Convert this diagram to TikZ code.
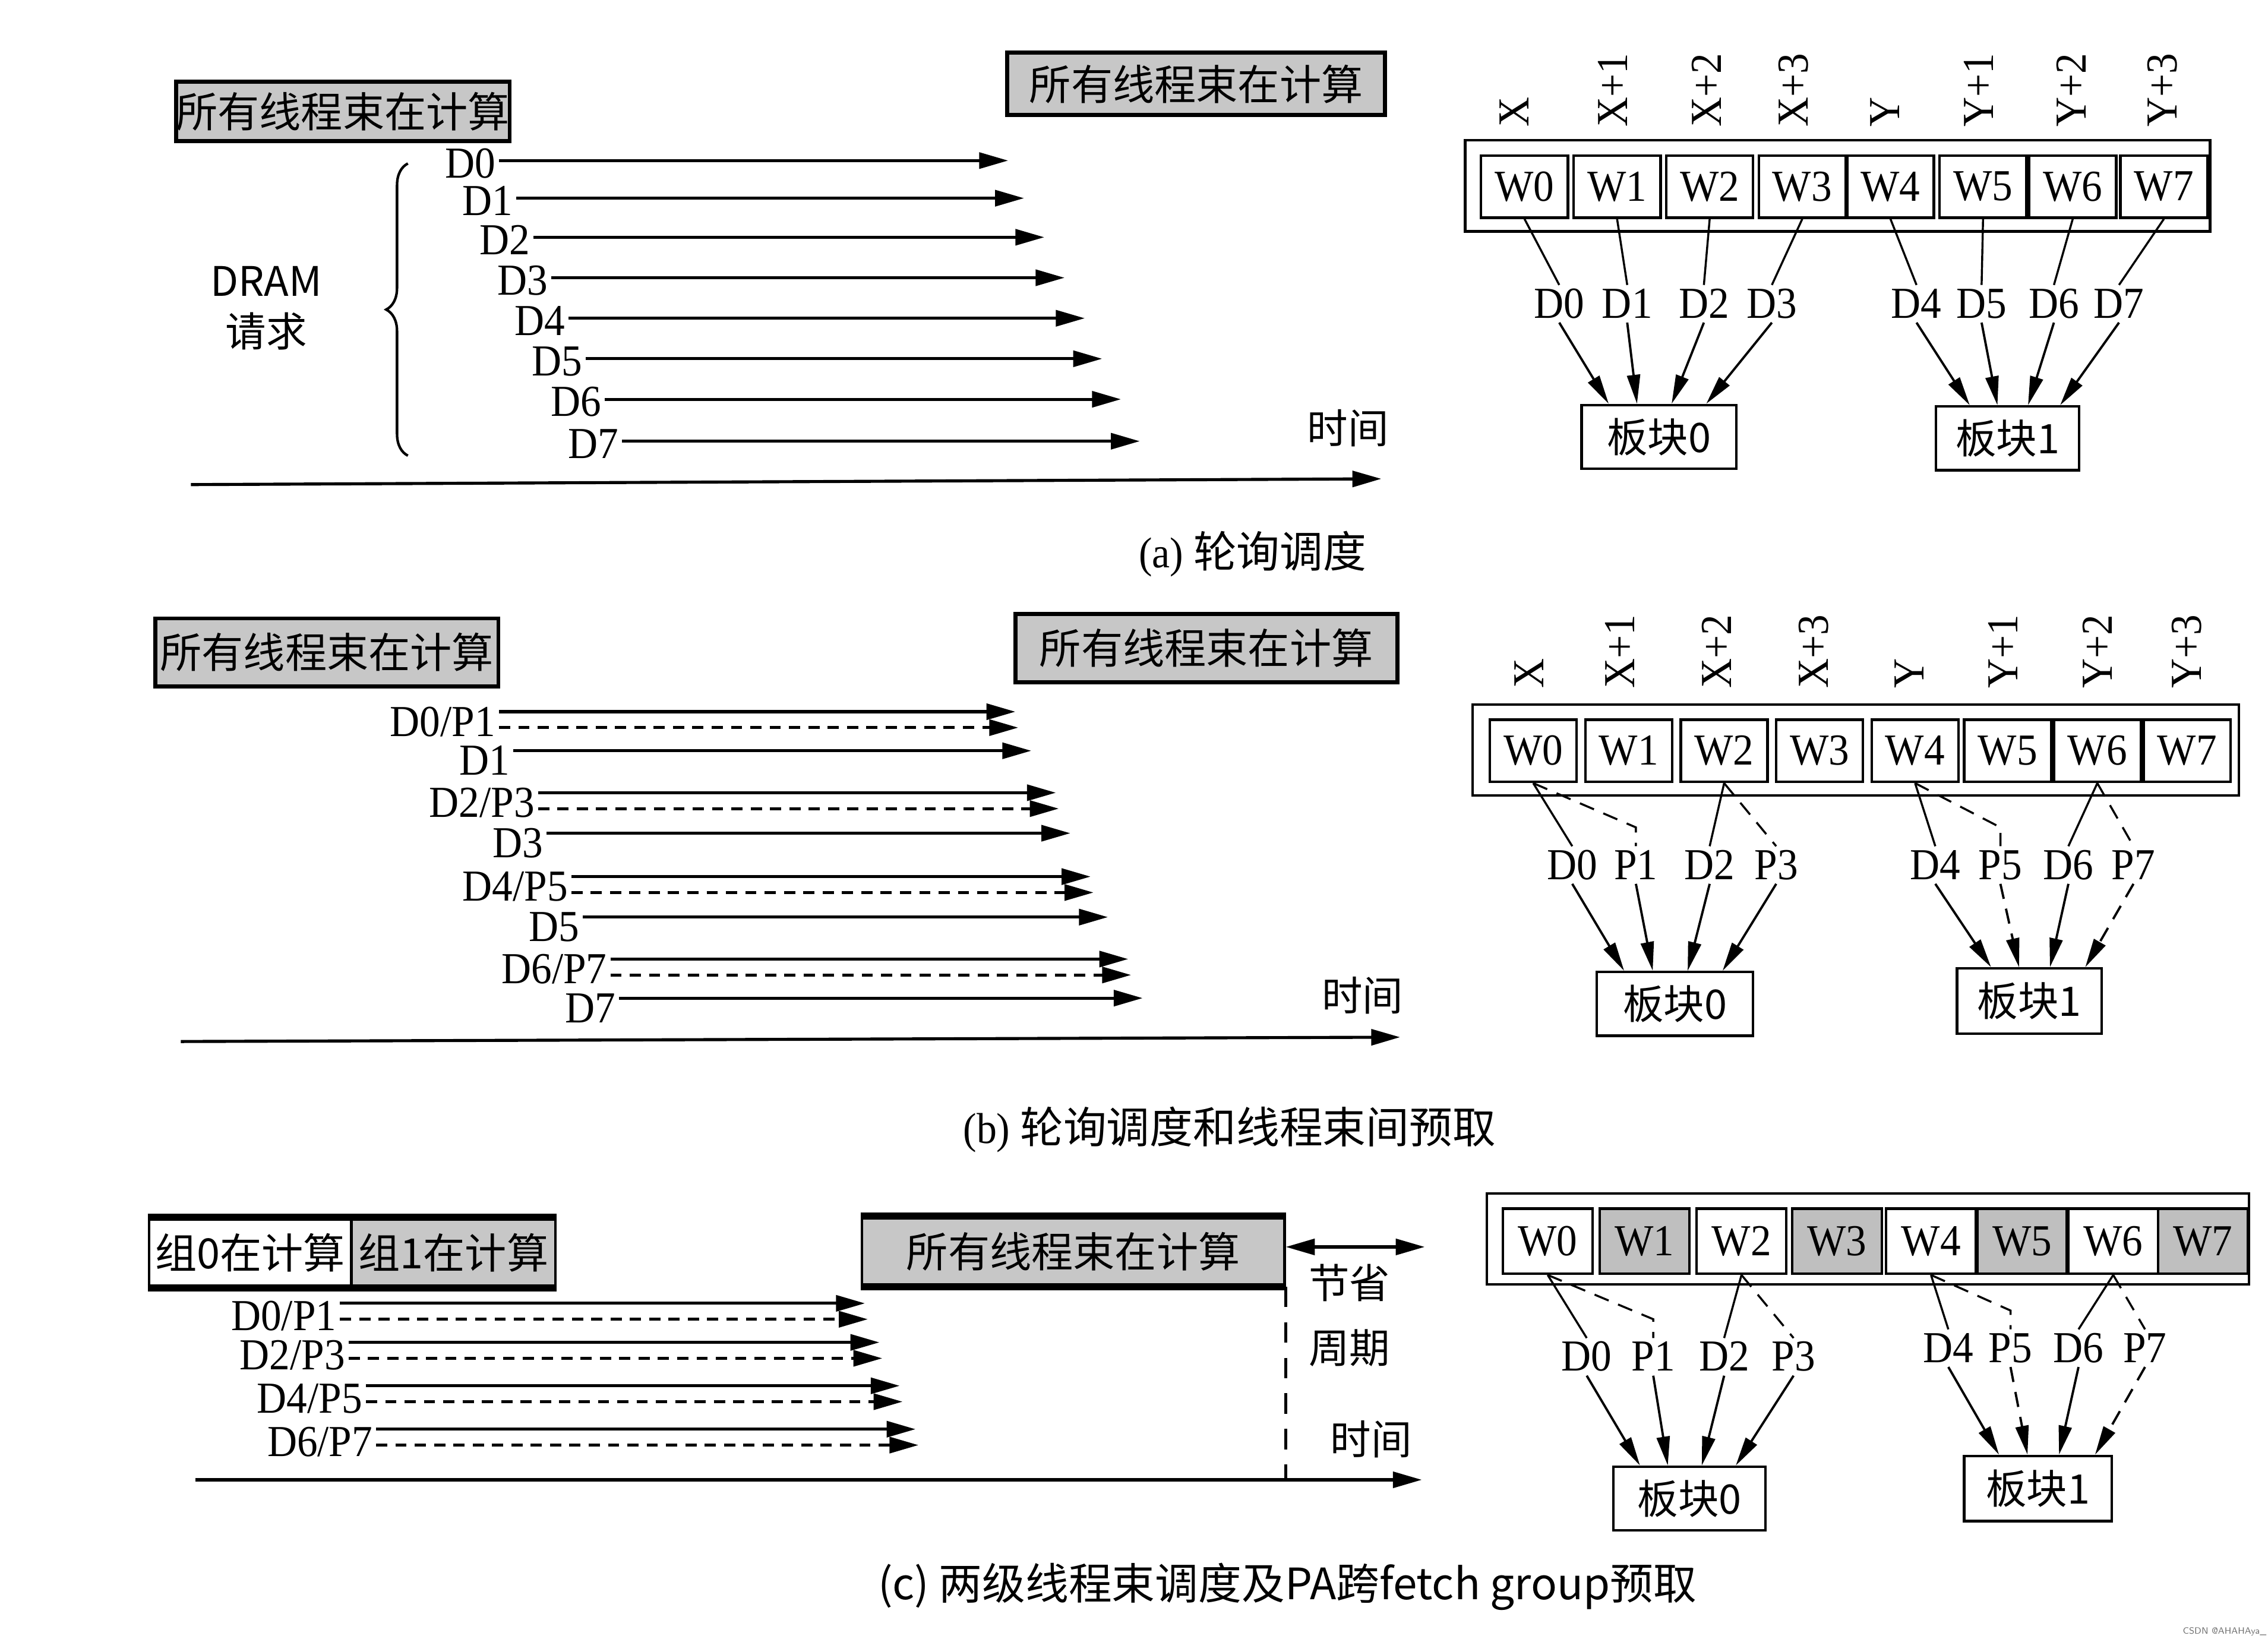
\documentclass[tikz,border=0pt]{standalone}
\usepackage{fontspec}
\setmainfont{Liberation Serif}[FakeStretch=0.93]
\newfontfamily\cjk{Noto Sans CJK SC}
\usetikzlibrary{arrows.meta,calc,decorations.pathreplacing}

\begin{document}
\begin{tikzpicture}[x=0.01cm,y=-0.01cm,font=\fontsize{8.7}{10}\selectfont,
  busy/.style={draw,line width=0.8pt,fill=black!22,inner sep=0pt,font=\cjk\fontsize{8.2}{9}\selectfont},
  grp/.style={draw,line width=0.5pt,inner sep=0pt,minimum height=0.47cm,font=\cjk\fontsize{8.2}{9}\selectfont},
  wbox/.style={draw,line width=0.5pt,inner sep=0pt,minimum width=0.6cm,minimum height=0.43cm},
  bank/.style={draw,line width=0.5pt,inner sep=0pt,minimum height=0.44cm,font=\cjk\fontsize{8}{9}\selectfont},
  cn/.style={font=\cjk\fontsize{8}{9}\selectfont},
  addr/.style={rotate=90,anchor=west,inner sep=1pt},
  lbl/.style={inner sep=0.5pt,text height=5.8pt,text depth=0.2pt},
  req/.style={-{Triangle[length=2mm,width=1.1mm]},line width=0.6pt},
  pref/.style={req,dash pattern=on 2.2pt off 1.6pt},
  link/.style={line width=0.4pt},
  plink/.style={link,dash pattern=on 3pt off 2pt},
  hit/.style={-{Triangle[length=2mm,width=0.9mm]},line width=0.45pt},
  phit/.style={hit,dash pattern=on 3pt off 2pt},
  axis/.style={-{Triangle[length=2mm,width=1.1mm]},line width=0.6pt}]
\useasboundingbox (0,0) rectangle (1568,1135);

% (a)
\node[busy,minimum width=2.21cm,minimum height=0.41cm] (a-busy1) at (237,77) {所有线程束在计算};
\node[busy,minimum width=2.61cm,minimum height=0.43cm] (a-busy2) at (827,58) {所有线程束在计算};
\foreach \i/\s/\e/\y in {0/345/697/111,1/357/708/137,2/369/722/164,3/381/736/192,
  4/393/750/220,5/405/762/248,6/418/775/276,7/430/788/305} {
  \node[lbl,anchor=east] (a-d\i) at (\s,\y+2) {D\i};
  \coordinate (a-e\i) at (\e,\y);
  \draw[req] (a-d\i.east |- a-e\i) -- (a-e\i);
}
\draw[line width=0.5pt,decorate,decoration={brace,amplitude=1.5mm}] (282,315) -- (282,113);
\node[font=\cjk\fontsize{8}{10}\selectfont,align=center] (a-dram) at (184,213) {DRAM\\请求};
\coordinate (a-t0) at (132,335);
\coordinate (a-t1) at (955,331);
\draw[axis] (a-t0) -- (a-t1);
\node[cn] (a-time) at (932,296) {时间};
\node[font=\fontsize{8.5}{10}\selectfont] (a-cap) at (866,383) {(a) {\cjk 轮询调度}};

\draw[line width=0.5pt] (1013,97) rectangle (1528,160);
\foreach \i/\x/\t/\n in {0/1054/1047/X,1/1118/1115/X+1,2/1182/1180/X+2,3/1246/1240/X+3,
  4/1307/1303/Y,5/1371/1368/Y+1,6/1433/1432/Y+2,7/1496/1495/Y+3} {
  \node[wbox] (a-w\i) at (\x,129) {W\i};
  \node[addr] (a-x\i) at (\t,92) {\n};
}
\foreach \i/\x in {0/1078,1/1125,2/1178,3/1225,4/1325,5/1370,6/1420,7/1465}
  \node[lbl] (a-q\i) at (\x,210) {D\i};
\node[bank,minimum width=1.07cm] (a-bank0) at (1147,302) {板块0};
\node[bank,minimum width=0.99cm] (a-bank1) at (1388,303) {板块1};
\foreach \i in {0,...,7}
  \draw[link] (a-w\i.south) -- (a-q\i.north);
\foreach \i/\f in {0/0.18,1/0.36,2/0.58,3/0.8}
  \draw[hit] (a-q\i.south) -- ($(a-bank0.north west)!\f!(a-bank0.north east)$);
\foreach \i/\f in {4/0.24,5/0.43,6/0.64,7/0.86}
  \draw[hit] (a-q\i.south) -- ($(a-bank1.north west)!\f!(a-bank1.north east)$);

% (b)
\node[busy,minimum width=2.37cm,minimum height=0.47cm] (b-busy1) at (226,451) {所有线程束在计算};
\node[busy,minimum width=2.64cm,minimum height=0.47cm] (b-busy2) at (834,448) {所有线程束在计算};
\foreach \n/\m/\s/\y/\e in {0/1/345/492/702,2/3/372/548/730,4/5/395/606/754,6/7/422/663/780} {
  \node[lbl,anchor=east] (b-d\n) at (\s,\y+7) {D\n/P\m};
  \coordinate (b-e\n) at (\e,\y);
  \coordinate (b-f\m) at (\e+2,\y+11);
  \draw[req] (b-d\n.east |- b-e\n) -- (b-e\n);
  \draw[pref] (b-d\n.east |- b-f\m) -- (b-f\m);
}
\foreach \i/\s/\y/\e in {1/355/519/713,3/378/576/740,5/403/634/766,7/428/690/790} {
  \node[lbl,anchor=east] (b-d\i) at (\s,\y+7) {D\i};
  \coordinate (b-e\i) at (\e,\y);
  \draw[req] (b-d\i.east |- b-e\i) -- (b-e\i);
}
\coordinate (b-t0) at (125,720);
\coordinate (b-t1) at (968,717);
\draw[axis] (b-t0) -- (b-t1);
\node[cn] (b-time) at (942,688) {时间};
\node[font=\fontsize{8.5}{10}\selectfont] (b-cap) at (850,781) {(b) {\cjk 轮询调度和线程束间预取}};

\draw[line width=0.5pt] (1018,487) rectangle (1548,550);
\foreach \i/\x/\t/\n in {0/1060/1057/X,1/1126/1120/X+1,2/1192/1187/X+2,3/1258/1254/X+3,
  4/1324/1320/Y,5/1388/1385/Y+1,6/1450/1450/Y+2,7/1512/1512/Y+3} {
  \node[wbox] (b-w\i) at (\x,519) {W\i};
  \node[addr] (b-x\i) at (\t,480) {\n};
}
\foreach \i/\x/\n in {0/1087/D0,1/1131/P1,2/1182/D2,3/1228/P3,4/1338/D4,5/1383/P5,6/1430/D6,7/1475/P7}
  \node[lbl] (b-q\i) at (\x,598) {\n};
\node[bank,minimum width=1.08cm] (b-bank0) at (1158,694) {板块0};
\node[bank,minimum width=1.0cm,minimum height=0.45cm] (b-bank1) at (1403,692) {板块1};
\draw[link] (b-w0.south) -- (b-q0.north);
\draw[link] (b-w2.south) -- (b-q2.north);
\draw[link] (b-w4.south) -- (b-q4.north);
\draw[link] (b-w6.south) -- (b-q6.north);
\draw[plink] (b-w0.south) -- ([yshift=1.3mm]b-q1.north) -- (b-q1.north);
\draw[plink] (b-w2.south) -- (b-q3.north);
\draw[plink] (b-w4.south) -- ([yshift=1.3mm]b-q5.north) -- (b-q5.north);
\draw[plink] (b-w6.south) -- (b-q7.north);
\foreach \i/\f in {0/0.18,1/0.36,2/0.58,3/0.8}
  \draw[hit] (b-q\i.south) -- ($(b-bank0.north west)!\f!(b-bank0.north east)$);
\draw[hit] (b-q4.south) -- ($(b-bank1.north west)!0.24!(b-bank1.north east)$);
\draw[phit] (b-q5.south) -- ($(b-bank1.north west)!0.43!(b-bank1.north east)$);
\draw[hit] (b-q6.south) -- ($(b-bank1.north west)!0.64!(b-bank1.north east)$);
\draw[phit] (b-q7.south) -- ($(b-bank1.north west)!0.88!(b-bank1.north east)$);

% (c)
\node[grp,fill=white,minimum width=1.40cm] (c-g0) at (173,866) {组0在计算};
\node[grp,fill=black!22,minimum width=1.41cm] (c-g1) at (313.5,866) {组1在计算};
\node[grp,fill=black!22,minimum width=2.92cm] (c-busy) at (742,865) {所有线程束在计算};
\draw[line width=1.4pt] (c-g0.north west) -- (c-g1.north east);
\draw[line width=1.4pt] (c-g0.south west) -- (c-g1.south east);
\draw[line width=1.4pt] (c-busy.north west) -- (c-busy.north east);
\draw[line width=1.4pt] (c-busy.south west) -- (c-busy.south east);
\coordinate (c-s1) at (985,862);
\draw[{Triangle[length=2mm,width=1.1mm]}-{Triangle[length=2mm,width=1.1mm]},line width=0.6pt]
  (c-busy.east |- c-s1) -- (c-s1);
\node[cn] (c-save1) at (933,887) {节省};
\node[cn] (c-save2) at (933,932) {周期};
\foreach \n/\m/\s/\y/\e in {0/1/237/901/598,2/3/243/928/608,4/5/255/958/622,6/7/262/988/633} {
  \node[lbl,anchor=east] (c-d\n) at (\s-2,\y+9) {D\n/P\m};
  \coordinate (c-e\n) at (\e,\y);
  \coordinate (c-f\m) at (\e+2,\y+11);
  \draw[req] (c-d\n.east |- c-e\n) -- (c-e\n);
  \draw[pref] (c-d\n.east |- c-f\m) -- (c-f\m);
}
\coordinate (c-t0) at (135,1023);
\coordinate (c-t1) at (983,1023);
\draw[axis] (c-t0) -- (c-t1);
\draw[line width=0.6pt,dash pattern=on 4pt off 3pt] (c-busy.south east) -- (c-busy.south east |- c-t0);
\node[cn] (c-time) at (948,995) {时间};
\node[font=\cjk\fontsize{8.5}{10}\selectfont] (c-cap) at (890,1097) {(c) 两级线程束调度及PA跨fetch group预取};

\draw[line width=0.5pt] (1028,825) rectangle (1555,888);
\foreach \i/\x/\c in {0/1070/white,1/1137/black!25,2/1204/white,3/1270/black!25,
  4/1335/white,5/1398/black!25,6/1461/white,7/1523/black!25}
  \node[wbox,fill=\c,minimum width=0.62cm,minimum height=0.45cm] (c-w\i) at (\x,858) {W\i};
\foreach \i/\x/\y/\n in {0/1097/938/D0,1/1143/938/P1,2/1192/938/D2,3/1240/938/P3,
  4/1347/932/D4,5/1390/932/P5,6/1437/932/D6,7/1483/932/P7}
  \node[lbl] (c-q\i) at (\x,\y) {\n};
\node[bank,minimum width=1.05cm] (c-bank0) at (1168,1036) {板块0};
\node[bank,minimum width=1.02cm,minimum height=0.45cm] (c-bank1) at (1409,1029) {板块1};
\draw[link] (c-w0.south) -- (c-q0.north);
\draw[link] (c-w2.south) -- (c-q2.north);
\draw[link] (c-w4.south) -- (c-q4.north);
\draw[link] (c-w6.south) -- (c-q6.north);
\draw[plink] (c-w0.south) -- ([yshift=1.3mm]c-q1.north) -- (c-q1.north);
\draw[plink] (c-w2.south) -- (c-q3.north);
\draw[plink] (c-w4.south) -- ([yshift=1.3mm]c-q5.north) -- (c-q5.north);
\draw[plink] (c-w6.south) -- (c-q7.north);
\foreach \i/\f in {0/0.18,1/0.36,2/0.58,3/0.8}
  \draw[hit] (c-q\i.south) -- ($(c-bank0.north west)!\f!(c-bank0.north east)$);
\draw[hit] (c-q4.south) -- ($(c-bank1.north west)!0.24!(c-bank1.north east)$);
\draw[phit] (c-q5.south) -- ($(c-bank1.north west)!0.43!(c-bank1.north east)$);
\draw[hit] (c-q6.south) -- ($(c-bank1.north west)!0.64!(c-bank1.north east)$);
\draw[phit] (c-q7.south) -- ($(c-bank1.north west)!0.88!(c-bank1.north east)$);

\node[font=\sffamily\fontsize{1.8}{2}\selectfont,text=black!55] (mark) at (1538,1128) {CSDN @AHAHAya\_};
\end{tikzpicture}
\end{document}
